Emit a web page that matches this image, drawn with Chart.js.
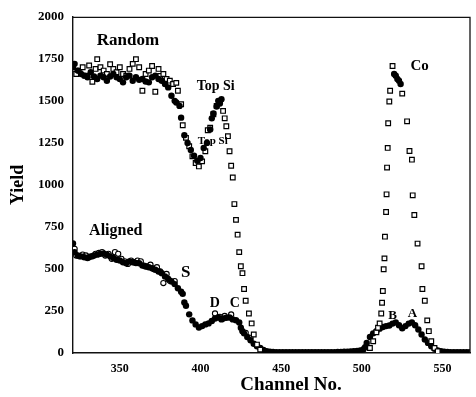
<!DOCTYPE html>
<html>
<head>
<meta charset="utf-8">
<script src="https://cdn.jsdelivr.net/npm/chart.js@4"></script>
<style>
  html, body { margin: 0; padding: 0; background: #fff; }
  canvas { display: block; }
</style>
</head>
<body>
<canvas id="c" width="476" height="397"></canvas>
<script>
// ---- data ----
const yTicks = [0, 250, 500, 750, 1000, 1250, 1500, 1750, 2000];
const xTicks = [350, 400, 450, 500, 550];

// Random spectrum, filled circles
const randomFilledCh = [321,322,324,326,328,330,332,334,336,338,340,342,344,346,348,350,352,354,356,358,360,362,364,366,368,370,372,374,376,378,380,382,384,385,387,388,390,392,394,396,398,400,402,404,406,407,408,410,411,412,413,
  520,521,522,523,524];
const randomFilledY = [1700,1720,1680,1660,1650,1640,1670,1645,1630,1650,1640,1620,1645,1660,1640,1630,1610,1640,1650,1620,1640,1625,1630,1615,1610,1640,1650,1630,1620,1600,1580,1530,1500,1490,1470,1400,1296,1249,1208,1173,1144,1160,1220,1250,1330,1396,1425,1466,1500,1484,1510,
  1660,1650,1630,1620,1600];

// Random spectrum, open squares
const randomOpenCh = [321,323,325,327,329,331,333,335,336,338,340,342,344,346,348,350,352,354,356,358,360,362,364,366,368,370,372,374,375,377,379,381,383,385,386,388,389,391,393,395,397,399,401,403,404.5,406,408,410,412,414,415,416,417,418,419,420,421,422,423,424,425,426,427,428,430,431.7,433,435,437,
  505,507,509,510,511,512,512.5,513,513.5,514,514.3,515,515.3,515.6,516,516.3,517,517.5,519,525,528,529.5,531,531.5,532.5,534.5,537,537.5,539,540.5,541.5,543,545,547];
const randomOpenY = [1690,1660,1680,1700,1650,1710,1613,1690,1748,1700,1680,1660,1718,1690,1670,1700,1660,1650,1690,1720,1748,1700,1560,1660,1680,1707,1554,1690,1648,1660,1630,1620,1600,1607,1560,1480,1355,1280,1230,1170,1130,1110,1140,1200,1325,1340,1420,1470,1500,1440,1396,1349,1290,1200,1114,1044,886,792,704,600,516,475,381,311,235,176,110,50,20,
  30,70,123,150,176,235,299,369,498,563,692,839,944,1103,1220,1367,1496,1560,1707,1543,1378,1202,1150,938,821,651,516,381,311,194,130,70,30,10];

// Aligned spectrum, filled circles
const alignedFilledCh = [321,322,324,326,328,330,332,334,336,338,340,342,344,346,348,350,352,354,356,358,360,362,364,366,368,370,372,374,376,378,380,382,384,386,388,389,390,391,393,395,397,399,401,403,405,407,409,411,413,414,416,418,420,422,424,425,426,427,429,431,433,435,437,439,441,443,445,447,449,451,453,455,457,459,461,463,465,467,469,471,473,475,477,479,481,483,485,487,489,491,493,495,497,499,501,502,503,505,507,509,511,513,515,517,519,521,523,525,527,529,531,533,535,537,539,541,543,545,547,549,551,553,555,557,559,561,563,565,567];
const alignedFilledY = [651,600,580,575,570,565,575,580,585,590,592,585,575,565,555,550,540,534,545,540,535,534,520,515,510,504,495,485,475,455,440,425,410,385,365,352,300,281,230,194,170,152,160,170,176,190,205,211,200,205,210,211,200,195,182,150,130,117,95,76,55,40,30,18,10,7,6,5,5,5,5,5,5,5,5,5,5,5,5,5,5,5,5,5,5,5,6,6,7,8,9,10,12,15,22,35,60,95,117,130,145,155,160,164,175,182,165,147,160,175,182,165,140,110,80,60,40,25,15,10,7,6,5,5,5,5,5,5,5];

// Aligned spectrum, open circles
const alignedOpenCh = [322,323,325,327,329,331,333,335,337,339,341,343,345,347,349,351,353,355,357,359,361,363,365,367,369,371,373,375,377,379,381,384,409,412,415,419,428,431];
const alignedOpenY = [620,580,575,585,580,570,575,590,595,600,580,590,560,600,590,560,545,530,550,540,550,545,520,515,525,500,510,485,416,470,430,428,235,215,220,229,120,90];

// text labels placed in data coordinates
const labels = [
  { text: 'Random',  ch: 355,   y: 1859, size: 17 },
  { text: 'Top Si',  ch: 409.4, y: 1584, size: 14 },
  { text: 'Top Si',  ch: 407.6, y: 1261, size: 11 },
  { text: 'Co',      ch: 535.8, y: 1707, size: 15 },
  { text: 'Aligned', ch: 347.5, y: 727,  size: 16 },
  { text: 'S',       ch: 390.9, y: 481,  size: 17 },
  { text: 'D',       ch: 408.8, y: 293,  size: 14 },
  { text: 'C',       ch: 421.2, y: 293,  size: 14 },
  { text: 'B',       ch: 519,   y: 223,  size: 13 },
  { text: 'A',       ch: 531.4, y: 235,  size: 13 }
];

const pts = (xs, ys) => xs.map((x, i) => ({ x: x, y: ys[i] }));
const FONT = "'Liberation Serif', 'Times New Roman', serif";

const overlay = {
  id: 'overlay',
  afterDatasetsDraw(chart) {
    const { ctx, chartArea: a, scales } = chart;
    ctx.save();
    // top and right frame
    ctx.strokeStyle = '#111';
    ctx.lineWidth = 1.3;
    ctx.beginPath();
    ctx.moveTo(a.left, a.top + 0.5);
    ctx.lineTo(a.right, a.top + 0.5);
    ctx.lineTo(a.right, a.bottom);
    ctx.stroke();
    // annotation labels
    ctx.fillStyle = '#000';
    ctx.textAlign = 'center';
    ctx.textBaseline = 'middle';
    labels.forEach(l => {
      ctx.font = 'bold ' + l.size + 'px ' + FONT;
      ctx.fillText(l.text, scales.x.getPixelForValue(l.ch), scales.y.getPixelForValue(l.y));
    });
    // x-axis title
    ctx.font = 'bold 19px ' + FONT;
    ctx.fillText('Channel No.', 291, 385);
    ctx.restore();
  }
};

new Chart(document.getElementById('c'), {
  type: 'scatter',
  data: {
    datasets: [
      { label: 'Random (filled)', data: pts(randomFilledCh, randomFilledY),
        pointStyle: 'circle', pointRadius: 3.2, backgroundColor: '#000', borderColor: '#000', borderWidth: 0 },
      { label: 'Random (open)', data: pts(randomOpenCh, randomOpenY),
        pointStyle: 'rect', pointRadius: 3.3, backgroundColor: '#fff', borderColor: '#000', borderWidth: 1.2 },
      { label: 'Aligned (filled)', data: pts(alignedFilledCh, alignedFilledY),
        pointStyle: 'circle', pointRadius: 3.2, backgroundColor: '#000', borderColor: '#000', borderWidth: 0 },
      { label: 'Aligned (open)', data: pts(alignedOpenCh, alignedOpenY),
        pointStyle: 'circle', pointRadius: 2.6, backgroundColor: '#fff', borderColor: '#000', borderWidth: 1.1 }
    ]
  },
  options: {
    responsive: false,
    animation: false,
    events: [],
    layout: { padding: { left: 0, right: 6, top: 12, bottom: 0 } },
    plugins: { legend: { display: false }, tooltip: { enabled: false } },
    scales: {
      x: {
        type: 'linear', min: 321, max: 567,
        afterFit: s => { s.height = 44; },
        afterBuildTicks: s => { s.ticks = xTicks.map(v => ({ value: v })); },
        grid: { display: false, drawTicks: false },
        border: { display: true, color: '#111', width: 1.4 },
        ticks: { color: '#000', padding: 9, callback: v => String(v),
                 font: { family: FONT, size: 12, weight: 'bold' } },
        title: { display: false }
      },
      y: {
        min: 0, max: 2000,
        afterFit: s => { s.width = 73; },
        afterBuildTicks: s => { s.ticks = yTicks.map(v => ({ value: v })); },
        grid: { display: false, drawTicks: false },
        border: { display: true, color: '#111', width: 1.4 },
        ticks: { color: '#000', padding: 9, callback: v => String(v),
                 font: { family: FONT, size: 13, weight: 'bold' } },
        title: { display: true, text: 'Yield', color: '#000', padding: { top: 8, bottom: 0 },
                 font: { family: FONT, size: 18, weight: 'bold' } }
      }
    }
  },
  plugins: [overlay]
});
</script>
</body>
</html>
